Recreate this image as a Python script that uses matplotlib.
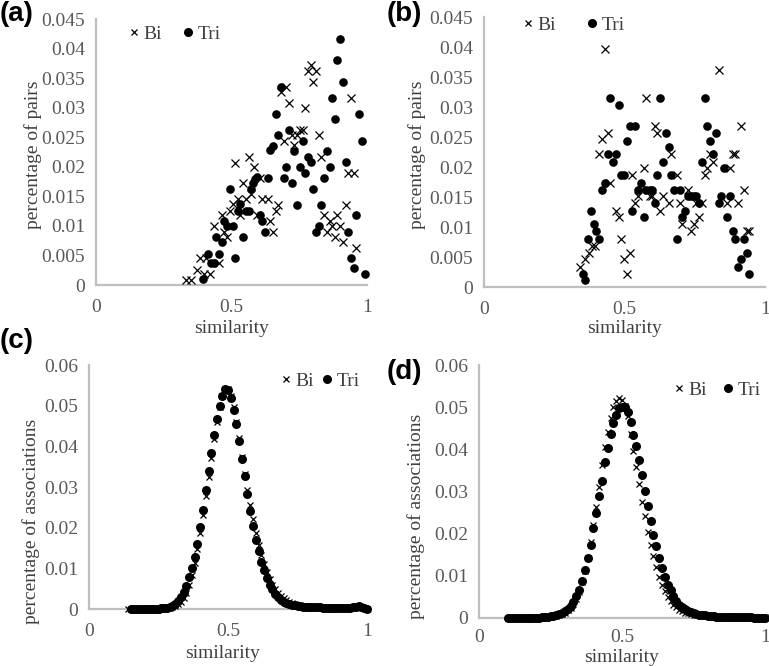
import matplotlib
matplotlib.use("Agg")
import matplotlib.pyplot as plt
from matplotlib.lines import Line2D

# ---------------- data ----------------
# panel (a)
a_tri_x = [0.394, 0.415, 0.425, 0.435, 0.443, 0.454, 0.464, 0.474, 0.484, 0.494, 0.504, 0.514,
           0.523, 0.533, 0.543, 0.553, 0.563, 0.573, 0.580, 0.588, 0.595, 0.604, 0.614, 0.623,
           0.633, 0.643, 0.652, 0.663, 0.673, 0.683, 0.694, 0.702, 0.712, 0.722, 0.731, 0.742,
           0.752, 0.763, 0.772, 0.781, 0.793, 0.802, 0.812, 0.822, 0.832, 0.842, 0.853, 0.862,
           0.872, 0.881, 0.891, 0.901, 0.911, 0.921, 0.931, 0.941, 0.951, 0.960, 0.970, 0.981, 0.991]
a_tri_y = [0.0010, 0.0053, 0.0037, 0.0037, 0.0081, 0.0053, 0.0072, 0.0108, 0.0099, 0.0163, 0.0099, 0.0045,
           0.0126, 0.0137, 0.0081, 0.0126, 0.0126, 0.0163, 0.0172, 0.0180, 0.0183, 0.0118, 0.0108, 0.0090,
           0.0181, 0.0228, 0.0235, 0.0289, 0.0253, 0.0335, 0.0181, 0.0199, 0.0263, 0.0172, 0.0226, 0.0136,
           0.0199, 0.0244, 0.0190, 0.0217, 0.0208, 0.0163, 0.0090, 0.0099, 0.0136, 0.0181, 0.0226, 0.0199,
           0.0317, 0.0281, 0.0380, 0.0417, 0.0344, 0.0208, 0.0090, 0.0045, 0.0028, 0.0118, 0.0289, 0.0244, 0.0019]
a_bi_x = [0.333, 0.352, 0.373, 0.383, 0.398, 0.405, 0.420, 0.435, 0.454, 0.464, 0.474, 0.484,
          0.494, 0.504, 0.514, 0.523, 0.533, 0.543, 0.553, 0.563, 0.573, 0.584, 0.593, 0.604,
          0.614, 0.633, 0.643, 0.653, 0.664, 0.673, 0.683, 0.693, 0.702, 0.712, 0.722, 0.731,
          0.742, 0.752, 0.762, 0.772, 0.781, 0.793, 0.802, 0.812, 0.822, 0.832, 0.842, 0.852,
          0.862, 0.872, 0.881, 0.891, 0.901, 0.911, 0.921, 0.931, 0.941, 0.951, 0.960]
a_bi_y = [0.0008, 0.0008, 0.0026, 0.0045, 0.0019, 0.0045, 0.0019, 0.0099, 0.0037, 0.0118, 0.0090, 0.0081,
          0.0126, 0.0137, 0.0207, 0.0145, 0.0118, 0.0172, 0.0145, 0.0217, 0.0154, 0.0199, 0.0118, 0.0181,
          0.0145, 0.0145, 0.0108, 0.0090, 0.0126, 0.0136, 0.0326, 0.0244, 0.0335, 0.0308, 0.0254, 0.0236,
          0.0254, 0.0263, 0.0263, 0.0299, 0.0362, 0.0372, 0.0344, 0.0362, 0.0253, 0.0217, 0.0118, 0.0090,
          0.0108, 0.0099, 0.0081, 0.0118, 0.0099, 0.0072, 0.0136, 0.0190, 0.0317, 0.0190, 0.0063]

# panel (b)
b_tri_x = [0.351, 0.360, 0.370, 0.380, 0.390, 0.400, 0.409, 0.420, 0.429, 0.440, 0.449, 0.459,
           0.470, 0.479, 0.489, 0.498, 0.508, 0.518, 0.528, 0.537, 0.548, 0.559, 0.568, 0.578,
           0.589, 0.598, 0.608, 0.617, 0.628, 0.637, 0.648, 0.658, 0.667, 0.677, 0.687, 0.697,
           0.706, 0.717, 0.727, 0.736, 0.747, 0.756, 0.766, 0.776, 0.786, 0.795, 0.806, 0.816,
           0.825, 0.836, 0.845, 0.855, 0.866, 0.875, 0.885, 0.895, 0.905, 0.914, 0.925, 0.935, 0.944]
b_tri_y = [0.0022, 0.0011, 0.0080, 0.0127, 0.0105, 0.0093, 0.0080, 0.0162, 0.0174, 0.0222, 0.0315, 0.0209,
           0.0222, 0.0304, 0.0186, 0.0186, 0.0244, 0.0268, 0.0127, 0.0268, 0.0162, 0.0174, 0.0117, 0.0162,
           0.0162, 0.0162, 0.0140, 0.0186, 0.0315, 0.0209, 0.0257, 0.0233, 0.0186, 0.0162, 0.0080, 0.0162,
           0.0117, 0.0127, 0.0151, 0.0151, 0.0151, 0.0151, 0.0140, 0.0209, 0.0315, 0.0268, 0.0244, 0.0222,
           0.0257, 0.0140, 0.0151, 0.0198, 0.0117, 0.0151, 0.0093, 0.0080, 0.0034, 0.0046, 0.0080, 0.0057, 0.0022]
b_bi_x = [0.340, 0.360, 0.372, 0.384, 0.394, 0.410, 0.420, 0.429, 0.440, 0.449, 0.470, 0.479,
          0.489, 0.498, 0.508, 0.518, 0.528, 0.539, 0.548, 0.559, 0.568, 0.578, 0.589, 0.598,
          0.608, 0.617, 0.628, 0.637, 0.658, 0.667, 0.687, 0.697, 0.706, 0.727, 0.736, 0.747,
          0.756, 0.766, 0.776, 0.786, 0.795, 0.806, 0.816, 0.836, 0.866, 0.875, 0.885, 0.895,
          0.905, 0.914, 0.925, 0.935, 0.944]
b_bi_y = [0.0033, 0.0047, 0.0057, 0.0068, 0.0068, 0.0222, 0.0246, 0.0397, 0.0257, 0.0174, 0.0127, 0.0117,
          0.0080, 0.0046, 0.0022, 0.0057, 0.0186, 0.0140, 0.0151, 0.0162, 0.0198, 0.0315, 0.0151, 0.0151,
          0.0268, 0.0257, 0.0127, 0.0151, 0.0140, 0.0222, 0.0186, 0.0140, 0.0105, 0.0162, 0.0093, 0.0105,
          0.0140, 0.0117, 0.0140, 0.0186, 0.0198, 0.0222, 0.0209, 0.0362, 0.0140, 0.0198, 0.0222, 0.0222,
          0.0140, 0.0268, 0.0162, 0.0093, 0.0093]

# panel (c)
c_tri_x = [0.15, 0.16, 0.17, 0.18, 0.19, 0.20, 0.21, 0.22, 0.23, 0.24, 0.25, 0.26, 0.27, 0.28, 0.29,
           0.30, 0.31, 0.32, 0.33, 0.34, 0.35, 0.36, 0.37, 0.38, 0.39, 0.40, 0.41, 0.42, 0.43, 0.44,
           0.45, 0.46, 0.47, 0.48, 0.49, 0.50, 0.51, 0.52, 0.53, 0.54, 0.55, 0.56, 0.57, 0.58, 0.59,
           0.60, 0.61, 0.62, 0.63, 0.64, 0.65, 0.66, 0.67, 0.68, 0.69, 0.70, 0.71, 0.72, 0.73, 0.74,
           0.75, 0.76, 0.77, 0.78, 0.79, 0.80, 0.81, 0.82, 0.83, 0.84, 0.85, 0.86, 0.87, 0.88, 0.89,
           0.90, 0.91, 0.92, 0.93, 0.94, 0.95, 0.96, 0.97, 0.98, 0.99, 1.00]
c_tri_y = [0.0000, 0.0000, 0.0000, 0.0000, 0.0000, 0.0000, 0.0000, 0.0001, 0.0001, 0.0001, 0.0001, 0.0002, 0.0002, 0.0003, 0.0005,
           0.0008, 0.0013, 0.0019, 0.0029, 0.0041, 0.0056, 0.0079, 0.0101, 0.0128, 0.0161, 0.0202, 0.0243, 0.0292, 0.0339, 0.0384,
           0.0429, 0.0466, 0.0500, 0.0525, 0.0541, 0.0538, 0.0519, 0.0489, 0.0456, 0.0412, 0.0369, 0.0328, 0.0284, 0.0240, 0.0203,
           0.0169, 0.0142, 0.0116, 0.0097, 0.0076, 0.0060, 0.0048, 0.0038, 0.0030, 0.0023, 0.0018, 0.0015, 0.0012, 0.0011, 0.0009,
           0.0008, 0.0007, 0.0006, 0.0006, 0.0005, 0.0005, 0.0004, 0.0004, 0.0004, 0.0003, 0.0003, 0.0003, 0.0003, 0.0003, 0.0002,
           0.0002, 0.0002, 0.0002, 0.0002, 0.0003, 0.0004, 0.0006, 0.0007, 0.0006, 0.0002, 0.0001]
c_bi_x = [0.14, 0.15, 0.16, 0.17, 0.18, 0.19, 0.20, 0.21, 0.22, 0.23, 0.24, 0.25, 0.26, 0.27, 0.28, 0.29,
          0.30, 0.31, 0.32, 0.33, 0.34, 0.35, 0.36, 0.37, 0.38, 0.39, 0.40, 0.41, 0.42, 0.43, 0.44,
          0.45, 0.46, 0.47, 0.48, 0.49, 0.50, 0.51, 0.52, 0.53, 0.54, 0.55, 0.56, 0.57, 0.58, 0.59,
          0.60, 0.61, 0.62, 0.63, 0.64, 0.65, 0.66, 0.67, 0.68, 0.69, 0.70, 0.71, 0.72, 0.73, 0.74,
          0.75, 0.76, 0.77, 0.78, 0.79, 0.80, 0.81, 0.82, 0.83, 0.84, 0.85, 0.86, 0.87, 0.88, 0.89,
          0.90, 0.91, 0.92, 0.93, 0.94, 0.95, 0.96, 0.97, 0.98, 0.99, 1.00]
c_bi_y = [0.0000, 0.0000, 0.0000, 0.0000, 0.0000, 0.0000, 0.0000, 0.0000, 0.0000, 0.0001, 0.0001, 0.0001, 0.0001, 0.0001, 0.0002, 0.0003,
          0.0005, 0.0008, 0.0012, 0.0018, 0.0027, 0.0040, 0.0058, 0.0083, 0.0112, 0.0147, 0.0187, 0.0231, 0.0278, 0.0324, 0.0371,
          0.0418, 0.0460, 0.0497, 0.0525, 0.0540, 0.0540, 0.0525, 0.0496, 0.0460, 0.0420, 0.0375, 0.0333, 0.0292, 0.0256, 0.0221,
          0.0188, 0.0158, 0.0132, 0.0110, 0.0090, 0.0073, 0.0059, 0.0048, 0.0039, 0.0032, 0.0026, 0.0021, 0.0017, 0.0014, 0.0012,
          0.0010, 0.0009, 0.0008, 0.0007, 0.0006, 0.0005, 0.0005, 0.0004, 0.0004, 0.0004, 0.0004, 0.0004, 0.0004, 0.0004, 0.0004,
          0.0004, 0.0004, 0.0004, 0.0004, 0.0004, 0.0004, 0.0004, 0.0005, 0.0004, 0.0002, 0.0001]

# panel (d)
d_x = [0.10, 0.11, 0.12, 0.13, 0.14, 0.15, 0.16, 0.17, 0.18, 0.19, 0.20, 0.21, 0.22, 0.23, 0.24,
       0.25, 0.26, 0.27, 0.28, 0.29, 0.30, 0.31, 0.32, 0.33, 0.34, 0.35, 0.36, 0.37, 0.38, 0.39,
       0.40, 0.41, 0.42, 0.43, 0.44, 0.45, 0.46, 0.47, 0.48, 0.49, 0.50, 0.51, 0.52, 0.53, 0.54,
       0.55, 0.56, 0.57, 0.58, 0.59, 0.60, 0.61, 0.62, 0.63, 0.64, 0.65, 0.66, 0.67, 0.68, 0.69,
       0.70, 0.71, 0.72, 0.73, 0.74, 0.75, 0.76, 0.77, 0.78, 0.79, 0.80, 0.81, 0.82, 0.83, 0.84,
       0.85, 0.86, 0.87, 0.88, 0.89, 0.90, 0.91, 0.92, 0.93, 0.94, 0.95, 0.96, 0.97, 0.98, 0.99, 1.00]
d_tri_y = [0.0001, 0.0001, 0.0001, 0.0001, 0.0001, 0.0001, 0.0001, 0.0001, 0.0001, 0.0001, 0.0001, 0.0001, 0.0002, 0.0002, 0.0003,
           0.0004, 0.0005, 0.0006, 0.0009, 0.0012, 0.0016, 0.0021, 0.0028, 0.0037, 0.0051, 0.0066, 0.0087, 0.0114, 0.0142, 0.0174,
           0.0213, 0.0250, 0.0290, 0.0326, 0.0371, 0.0404, 0.0436, 0.0462, 0.0482, 0.0497, 0.0501, 0.0500, 0.0489, 0.0466, 0.0434,
           0.0408, 0.0375, 0.0339, 0.0302, 0.0266, 0.0231, 0.0197, 0.0171, 0.0142, 0.0118, 0.0097, 0.0079, 0.0066, 0.0051, 0.0041,
           0.0032, 0.0026, 0.0021, 0.0017, 0.0014, 0.0012, 0.0010, 0.0008, 0.0007, 0.0006, 0.0005, 0.0004, 0.0004, 0.0003, 0.0003,
           0.0003, 0.0002, 0.0002, 0.0002, 0.0002, 0.0002, 0.0002, 0.0002, 0.0002, 0.0002, 0.0002, 0.0001, 0.0001, 0.0001, 0.0001, 0.0001]
d_bi_y = [0.0000, 0.0000, 0.0000, 0.0000, 0.0000, 0.0000, 0.0000, 0.0000, 0.0001, 0.0001, 0.0001, 0.0001, 0.0001, 0.0002, 0.0002,
          0.0003, 0.0004, 0.0005, 0.0007, 0.0010, 0.0013, 0.0018, 0.0024, 0.0033, 0.0045, 0.0062, 0.0085, 0.0112, 0.0143, 0.0180,
          0.0220, 0.0264, 0.0310, 0.0362, 0.0405, 0.0442, 0.0475, 0.0500, 0.0515, 0.0521, 0.0518, 0.0503, 0.0478, 0.0437, 0.0395,
          0.0358, 0.0318, 0.0276, 0.0243, 0.0205, 0.0174, 0.0146, 0.0120, 0.0098, 0.0079, 0.0063, 0.0050, 0.0040, 0.0032, 0.0025,
          0.0020, 0.0016, 0.0013, 0.0011, 0.0009, 0.0008, 0.0007, 0.0006, 0.0005, 0.0004, 0.0004, 0.0003, 0.0003, 0.0003, 0.0003,
          0.0003, 0.0003, 0.0003, 0.0003, 0.0003, 0.0003, 0.0002, 0.0002, 0.0002, 0.0002, 0.0002, 0.0002, 0.0002, 0.0002, 0.0002, 0.0002]

ab_yticks = [0, 0.005, 0.01, 0.015, 0.02, 0.025, 0.03, 0.035, 0.04, 0.045]
ab_yticklabels = ["0", "0.005", "0.01", "0.015", "0.02", "0.025", "0.03", "0.035", "0.04", "0.045"]
cd_yticks = [0, 0.01, 0.02, 0.03, 0.04, 0.05, 0.06]
cd_yticklabels = ["0", "0.01", "0.02", "0.03", "0.04", "0.05", "0.06"]
xticks = [0, 0.5, 1]
xticklabels = ["0", "0.5", "1"]
series_names = ["Bi", "Tri"]

# ---------------- style ----------------
SERIF = ["Liberation Serif", "DejaVu Serif"]
plt.rcParams["font.family"] = SERIF
TXT = "#404040"
TICK = "#595959"
AX = "#bfbfbf"

W, H = 769, 666
fig = plt.figure(figsize=(W / 100, H / 100), dpi=100)


def make_ax(left, right, top, bottom):
    return fig.add_axes([left / W, 1 - bottom / H, (right - left) / W, (bottom - top) / H])


def style(ax, ylim, yticks, yticklabels, ylabel, ylabel_xy, xlabel_xy, xpad=10):
    ax.set_xlim(0, 1)
    ax.set_ylim(*ylim)
    ax.set_xticks(xticks)
    ax.set_xticklabels(xticklabels)
    ax.set_yticks(yticks)
    ax.set_yticklabels(yticklabels)
    for s in ("top", "right"):
        ax.spines[s].set_visible(False)
    for s in ("left", "bottom"):
        ax.spines[s].set_color(AX)
        ax.spines[s].set_linewidth(1.6)
    ax.tick_params(length=0, labelsize=14, labelcolor=TICK)
    ax.tick_params(axis="x", pad=xpad)
    ax.tick_params(axis="y", pad=8)
    ax.set_ylabel(ylabel, fontsize=14, color=TXT)
    ax.set_xlabel("similarity", fontsize=14, color=TXT)
    ax.yaxis.set_label_coords(*ylabel_xy)
    ax.xaxis.set_label_coords(*xlabel_xy)
    ax.patch.set_alpha(0)
    for sp in ax.spines.values():
        sp.set_zorder(0.5)


def legend(ax, x, y, colsp):
    handles = [Line2D([], [], ls="none", marker="x", color="black", markersize=4.5, mew=0.9),
               Line2D([], [], ls="none", marker="o", color="black", markersize=5.5)]
    ax.legend(handles, series_names, ncol=2, loc="center left", bbox_to_anchor=(x / W, 1 - y / H),
              bbox_transform=fig.transFigure, frameon=False, fontsize=14, handlelength=0.5,
              handletextpad=0.25, columnspacing=colsp, borderpad=0, borderaxespad=0,
              labelcolor=TXT)


def scatter_pair(ax, bx, by, tx, ty, ms_dot, ms_x):
    ax.plot(bx, by, ls="none", marker="x", color="black", markersize=ms_x, mew=0.9, clip_on=False, zorder=3)
    ax.plot(tx, ty, ls="none", marker="o", color="black", markersize=ms_dot, mew=0, clip_on=False, zorder=2)


# (a)
axa = make_ax(96, 367, 19, 285)
scatter_pair(axa, a_bi_x, a_bi_y, a_tri_x, a_tri_y, 6.2, 5.2)
style(axa, (0, 0.045), ab_yticks, ab_yticklabels, "percentage of pairs", (-0.198, 0.49), (0.5, -0.132))
legend(axa, 129, 34, 1.1)

# (b)
axb = make_ax(484, 765, 17, 287)
scatter_pair(axb, b_bi_x, b_bi_y, b_tri_x, b_tri_y, 6.2, 5.2)
style(axb, (0, 0.045), ab_yticks, ab_yticklabels, "percentage of pairs", (-0.205, 0.49), (0.5, -0.122))
legend(axb, 523, 25, 1.6)

# (c)
axc = make_ax(89, 367, 365, 609)
scatter_pair(axc, c_bi_x, c_bi_y, c_tri_x, c_tri_y, 6.5, 5.0)
style(axc, (0, 0.06), cd_yticks, cd_yticklabels, "percentage of associations", (-0.176, 0.36), (0.48, -0.147))
legend(axc, 281, 381, 0.4)

# (d)
axd = make_ax(479, 765, 365, 618)
scatter_pair(axd, d_x, d_bi_y, d_x, d_tri_y, 6.5, 5.0)
style(axd, (0, 0.06), cd_yticks, cd_yticklabels, "percentage of associations", (-0.189, 0.40), (0.5, -0.122),
      xpad=8)
legend(axd, 674, 390, 0.8)

# panel letters
for lab, x, y in (("(a)", 0, 14), ("(b)", 387, 14), ("(c)", 0, 341), ("(d)", 387, 372)):
    fig.text(x / W, 1 - y / H, lab, fontsize=20, fontweight="bold", family=["Liberation Sans", "DejaVu Sans"],
             ha="left", va="center", color="black")

fig.savefig("out.png", dpi=100, facecolor="white")
